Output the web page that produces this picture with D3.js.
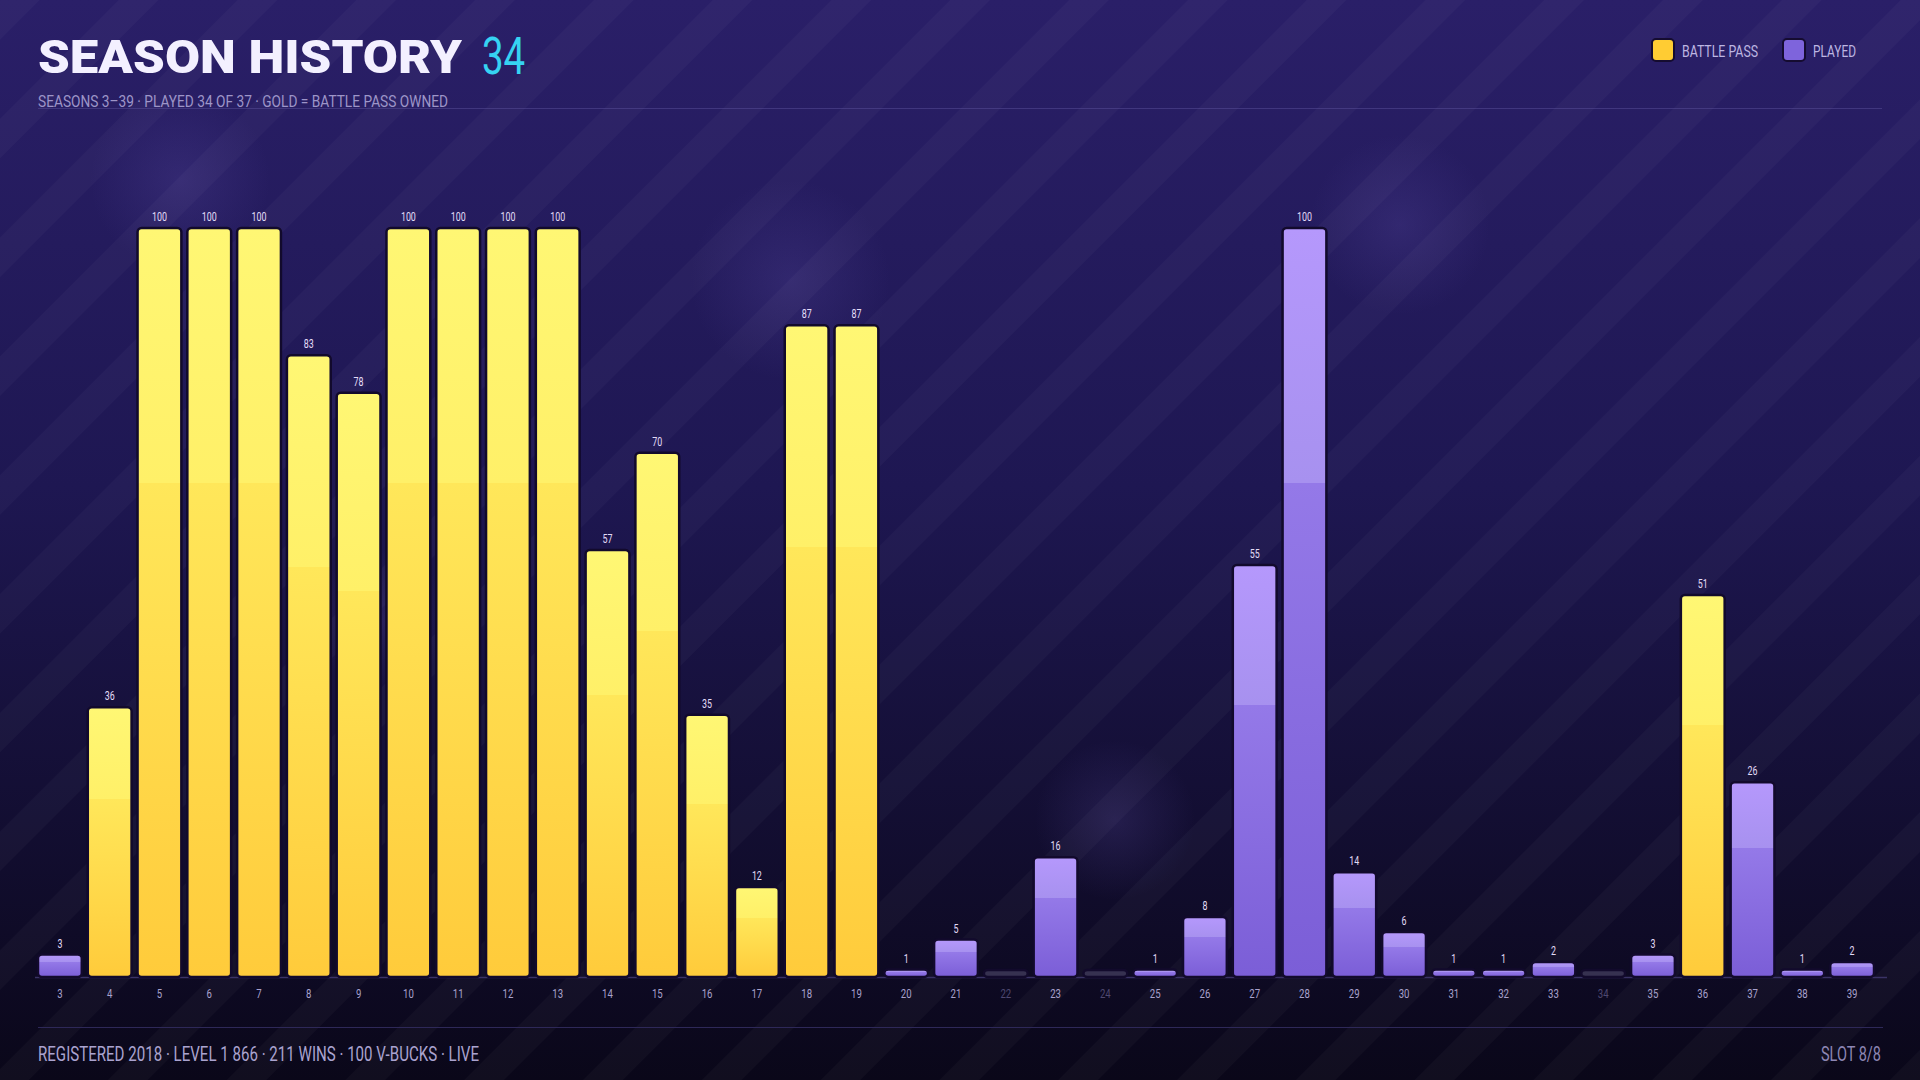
<!DOCTYPE html>
<html><head><meta charset="utf-8">
<script src="https://cdn.jsdelivr.net/npm/d3@7"></script>
<style>
html,body{margin:0;padding:0;background:#0c0920;}
svg{display:block;}
text{font-family:Roboto,'Noto Sans',sans-serif;}
</style></head>
<body>
<script>
const seasons = [3,4,5,6,7,8,9,10,11,12,13,14,15,16,17,18,19,20,21,22,23,24,25,26,27,28,29,30,31,32,33,34,35,36,37,38,39];
const levels  = [3,36,100,100,100,83,78,100,100,100,100,57,70,35,12,87,87,1,5,0,16,0,1,8,55,100,14,6,1,1,2,0,3,51,26,1,2];
const battlePass = [4,5,6,7,8,9,10,11,12,13,14,15,16,17,18,19,36];
const titleText = "SEASON HISTORY";
const titleCount = "34";
const subtitle = "SEASONS 3–39  ·  PLAYED 34 OF 37  ·  GOLD = BATTLE PASS OWNED";
const footerLeft = "REGISTERED 2018  ·  LEVEL 1 866  ·  211 WINS  ·  100 V-BUCKS  ·  LIVE";
const footerRight = "SLOT 8/8";
const legendItems = [{label:"BATTLE PASS", key:"gold"},{label:"PLAYED", key:"purple"}];

const W = 1920, H = 1080;
const SX = 0.74; // horizontal condensing for narrow labels
const svg = d3.select("body").append("svg").attr("width", W).attr("height", H);
const defs = svg.append("defs");

function condText(sel, x, y, txt, size, fill, anchor){
  return sel.append("text")
    .attr("transform", `translate(${x},${y}) scale(${SX},1)`)
    .attr("font-size", size).attr("fill", fill)
    .attr("text-anchor", anchor || "start").text(txt);
}

// background
const bg = defs.append("linearGradient").attr("id","bg").attr("x1",0).attr("y1",0).attr("x2",0).attr("y2",1);
bg.append("stop").attr("offset",0).attr("stop-color","#2a1f68");
bg.append("stop").attr("offset",0.45).attr("stop-color","#1e1752");
bg.append("stop").attr("offset",1).attr("stop-color","#0a0719");
svg.append("rect").attr("width",W).attr("height",H).attr("fill","url(#bg)");

// soft glows
const glow = defs.append("radialGradient").attr("id","glow");
glow.append("stop").attr("offset",0).attr("stop-color","#6a5ab8").attr("stop-opacity",0.2);
glow.append("stop").attr("offset",1).attr("stop-color","#6a5ab8").attr("stop-opacity",0);
[[180,180,90],[790,280,100],[1400,225,90],[1115,820,80],[380,620,70]].forEach(([cx,cy,r])=>{
  svg.append("circle").attr("cx",cx).attr("cy",cy).attr("r",r).attr("fill","url(#glow)");
});

// diagonal stripes
const pat = defs.append("pattern").attr("id","stripes").attr("patternUnits","userSpaceOnUse")
  .attr("width",84).attr("height",84).attr("patternTransform","rotate(45)");
pat.append("rect").attr("x",0).attr("y",0).attr("width",28).attr("height",84).attr("fill","#ffffff").attr("opacity",0.028);
svg.append("rect").attr("width",W).attr("height",H).attr("fill","url(#stripes)");

// bar gradients
function grad(id, stops){
  const g = defs.append("linearGradient").attr("id",id).attr("x1",0).attr("y1",0).attr("x2",0).attr("y2",1);
  stops.forEach(([o,c])=>g.append("stop").attr("offset",o).attr("stop-color",c));
}
grad("gold",[[0,"#fff774"],[0.34,"#fff068"],[0.34,"#ffe75a"],[1,"#ffcb3b"]]);
grad("purple",[[0,"#b598fc"],[0.34,"#a791ef"],[0.34,"#9479e8"],[1,"#7b5ed7"]]);

// header
const header = svg.append("g");
header.append("line").attr("x1",38).attr("x2",1882).attr("y1",108.5).attr("y2",108.5)
  .attr("stroke","#5a4f9a").attr("stroke-opacity",0.5).attr("stroke-width",1);
header.append("text").attr("x",38).attr("y",73)
  .attr("font-family","Lato, 'Open Sans', sans-serif").attr("font-weight",900)
  .attr("font-size",46).attr("textLength",424).attr("lengthAdjust","spacingAndGlyphs")
  .attr("fill","#f3f0ff").text(titleText);
condText(header, 482, 74, titleCount, 52, "#36d3f2");
header.append("text").attr("x",38).attr("y",107).attr("font-size",17)
  .attr("textLength",410).attr("lengthAdjust","spacingAndGlyphs")
  .attr("fill","#9d95c8").text(subtitle);

// legend
const lg = svg.append("g");
const legendX = [1652, 1783];
const legendW = [76, 43];
legendItems.forEach((d,i)=>{
  const lx = legendX[i];
  lg.append("rect").attr("x",lx).attr("y",39).attr("width",22).attr("height",22).attr("rx",4)
    .attr("fill", d.key==="gold" ? "#ffcc33" : "#7e64dc").attr("stroke","#150c30").attr("stroke-width",2);
  lg.append("text").attr("x",lx+30).attr("y",57).attr("font-size",17)
    .attr("textLength",legendW[i]).attr("lengthAdjust","spacingAndGlyphs")
    .attr("fill","#bdb6e2").text(d.label);
});

// scales
const x = d3.scaleBand().domain(seasons).range([35,1877]).paddingInner(0.12).paddingOuter(0.06);
const y = d3.scaleLinear().domain([0,100]).range([977,228]);

// baseline
svg.append("line").attr("x1",35).attr("x2",1887).attr("y1",977.5).attr("y2",977.5)
  .attr("stroke","#3a3366").attr("stroke-width",1.5);

const data = seasons.map((s,i)=>({s, v:levels[i], bp: battlePass.includes(s)}));

const bars = svg.append("g");
bars.selectAll("rect").data(data).join("rect")
  .attr("x", d=>x(d.s))
  .attr("width", x.bandwidth())
  .attr("y", d=> d.v===0 ? y(0)-7 : y(d.v))
  .attr("height", d=> d.v===0 ? 7 : y(0)-y(d.v))
  .attr("rx",4)
  .attr("fill", d=> d.v===0 ? "#363150" : (d.bp ? "url(#gold)" : "url(#purple)"))
  .attr("stroke","#120a2c").attr("stroke-width",2.5);

// value labels
const vl = svg.append("g");
data.filter(d=>d.v>0).forEach(d=>{
  condText(vl, x(d.s)+x.bandwidth()/2, y(d.v)-7, d.v, 12, "#e2dcf7", "middle");
});

// x axis tick labels
const axis = svg.append("g").attr("transform","translate(0,977)")
  .call(d3.axisBottom(x).tickSize(0).tickPadding(12));
axis.select(".domain").remove();
axis.selectAll(".tick text")
  .attr("font-size",13).attr("y",0).attr("dy",null)
  .attr("transform",`translate(0,21) scale(${SX},1)`)
  .attr("fill", (d,i)=> levels[i]===0 ? "#4e4870" : "#a8a1cc");

// footer
svg.append("line").attr("x1",38).attr("x2",1883).attr("y1",1027.5).attr("y2",1027.5)
  .attr("stroke","#2e2858").attr("stroke-width",1);
svg.append("text").attr("x",38).attr("y",1061).attr("font-size",20)
  .attr("textLength",441).attr("lengthAdjust","spacingAndGlyphs")
  .attr("fill","#aaa3cf").text(footerLeft);
svg.append("text").attr("x",1821).attr("y",1061).attr("font-size",20)
  .attr("textLength",60).attr("lengthAdjust","spacingAndGlyphs")
  .attr("fill","#8d86b4").text(footerRight);
</script>
</body></html>
